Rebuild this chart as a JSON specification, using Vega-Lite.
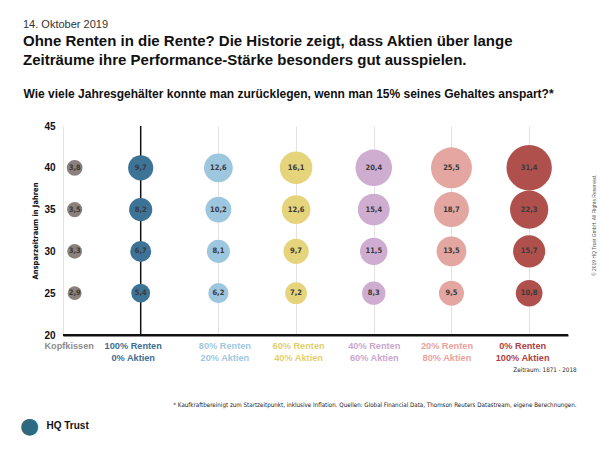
{
  "$schema": "https://vega.github.io/schema/vega-lite/v6.json",
  "width": 505,
  "height": 209,
  "autosize": {"type": "none"},
  "padding": {"left": 63, "top": 126, "right": 32, "bottom": 115},
  "background": "white",
  "config": {
    "font": "Liberation Sans",
    "view": {"stroke": null},
    "locale": {"number": {"decimal": ",", "thousands": ".", "grouping": [3], "currency": ["", " €"]}}
  },
  "title": {
    "text": "14. Oktober 2019",
    "subtitle": ["Ohne Renten in die Rente? Die Historie zeigt, dass Aktien über lange", "Zeiträume ihre Performance-Stärke besonders gut ausspielen."],
    "anchor": "start",
    "frame": "group",
    "dx": -40,
    "fontSize": 11,
    "fontWeight": "normal",
    "color": "#333333",
    "subtitleFontSize": 15,
    "subtitleFontWeight": "bold",
    "subtitleColor": "#111111",
    "subtitleLineHeight": 19.5,
    "subtitlePadding": 4,
    "offset": 19
  },
  "data": {"values": [
    {"strategie": "Kopfkissen", "aktien": -17, "jahre": 40, "wert": 3.8},
    {"strategie": "Kopfkissen", "aktien": -17, "jahre": 35, "wert": 3.5},
    {"strategie": "Kopfkissen", "aktien": -17, "jahre": 30, "wert": 3.3},
    {"strategie": "Kopfkissen", "aktien": -17, "jahre": 25, "wert": 2.9},
    {"strategie": "100% Renten", "aktien": 0, "jahre": 40, "wert": 9.7},
    {"strategie": "100% Renten", "aktien": 0, "jahre": 35, "wert": 8.2},
    {"strategie": "100% Renten", "aktien": 0, "jahre": 30, "wert": 6.7},
    {"strategie": "100% Renten", "aktien": 0, "jahre": 25, "wert": 5.4},
    {"strategie": "80% Renten", "aktien": 20, "jahre": 40, "wert": 12.6},
    {"strategie": "80% Renten", "aktien": 20, "jahre": 35, "wert": 10.2},
    {"strategie": "80% Renten", "aktien": 20, "jahre": 30, "wert": 8.1},
    {"strategie": "80% Renten", "aktien": 20, "jahre": 25, "wert": 6.2},
    {"strategie": "60% Renten", "aktien": 40, "jahre": 40, "wert": 16.1},
    {"strategie": "60% Renten", "aktien": 40, "jahre": 35, "wert": 12.6},
    {"strategie": "60% Renten", "aktien": 40, "jahre": 30, "wert": 9.7},
    {"strategie": "60% Renten", "aktien": 40, "jahre": 25, "wert": 7.2},
    {"strategie": "40% Renten", "aktien": 60, "jahre": 40, "wert": 20.4},
    {"strategie": "40% Renten", "aktien": 60, "jahre": 35, "wert": 15.4},
    {"strategie": "40% Renten", "aktien": 60, "jahre": 30, "wert": 11.5},
    {"strategie": "40% Renten", "aktien": 60, "jahre": 25, "wert": 8.3},
    {"strategie": "20% Renten", "aktien": 80, "jahre": 40, "wert": 25.5},
    {"strategie": "20% Renten", "aktien": 80, "jahre": 35, "wert": 18.7},
    {"strategie": "20% Renten", "aktien": 80, "jahre": 30, "wert": 13.5},
    {"strategie": "20% Renten", "aktien": 80, "jahre": 25, "wert": 9.5},
    {"strategie": "0% Renten", "aktien": 100, "jahre": 40, "wert": 31.4},
    {"strategie": "0% Renten", "aktien": 100, "jahre": 35, "wert": 22.3},
    {"strategie": "0% Renten", "aktien": 100, "jahre": 30, "wert": 15.7},
    {"strategie": "0% Renten", "aktien": 100, "jahre": 25, "wert": 10.8}
  ]},
  "layer": [
    {
      "data": {"values": [{"linie": "100% Renten"}]},
      "mark": {"type": "rule", "color": "#111111", "strokeWidth": 1.5},
      "encoding": {
        "x": {
          "datum": 0,
          "type": "quantitative",
          "scale": {"domain": [-20, 110], "nice": false, "zero": false},
          "axis": {
            "orient": "bottom",
            "labels": false,
            "ticks": false,
            "domain": false,
            "grid": false,
            "title": "HQ Trust",
            "titleX": -17,
            "titleY": 90,
            "titleAlign": "left",
            "titleAnchor": "start",
            "titleBaseline": "middle",
            "titleFontSize": 10,
            "titleFontWeight": "bold",
            "titleColor": "#111111"
          }
        }
      }
    },
    {
      "data": {"values": [{"linie": "Basis"}]},
      "mark": {"type": "rule", "color": "#111111", "strokeWidth": 2},
      "encoding": {
        "y": {
          "datum": 20,
          "type": "quantitative",
          "scale": {"domain": [20, 45], "nice": false, "zero": false},
          "axis": {
            "orient": "left",
            "labels": false,
            "ticks": false,
            "domain": false,
            "grid": false,
            "title": "●",
            "titleAngle": 0,
            "titleX": -34,
            "titleY": 299,
            "titleAlign": "center",
            "titleBaseline": "middle",
            "titleFontSize": 22,
            "titleFontWeight": "normal",
            "titleColor": "#2b6a7f",
            "titleFont": "DejaVu Sans"
          }
        }
      }
    },
    {
      "mark": {"type": "circle", "opacity": 1},
      "encoding": {
        "x": {
          "field": "aktien",
          "type": "quantitative",
          "scale": {"domain": [-20, 110], "nice": false, "zero": false},
          "axis": {
            "orient": "bottom",
            "values": [-17, 0, 20, 40, 60, 80, 100],
            "labelExpr": "datum.value < 0 ? 'Kopfkissen' : [(100 - datum.value) + '% Renten', datum.value + '% Aktien']",
            "labelFontSize": 9.2,
            "labelFontWeight": "bold",
            "labelLineHeight": 12,
            "labelPadding": 6,
            "labelOverlap": false,
            "labelFlush": false,
            "labelBound": false,
            "labelOffset": {
              "condition": [
                {"test": "datum.value < 0", "value": -6},
                {"test": "datum.value == 0", "value": -8},
                {"test": "datum.value == 20", "value": 6},
                {"test": "datum.value == 40", "value": 2},
                {"test": "datum.value == 60", "value": 0},
                {"test": "datum.value == 80", "value": -5}
              ],
              "value": -7
            },
            "labelColor": {
              "condition": [
                {"test": "datum.value < 0", "value": "#8c8c8c"},
                {"test": "datum.value == 0", "value": "#3b6e95"},
                {"test": "datum.value == 20", "value": "#9fc8e0"},
                {"test": "datum.value == 40", "value": "#e2cf6c"},
                {"test": "datum.value == 60", "value": "#cba7cd"},
                {"test": "datum.value == 80", "value": "#e9a29d"}
              ],
              "value": "#b0433f"
            },
            "ticks": false,
            "domainColor": "#111111",
            "domainWidth": 2,
            "grid": true,
            "gridColor": {"condition": {"test": "datum.value <= 0", "value": "transparent"}, "value": "#e3e3e3"},
            "title": ["Zeitraum: 1871 - 2018", "* Kaufkraftbereinigt zum Startzeitpunkt, inklusive Inflation. Quellen: Global Financial Data, Thomson Reuters Datastream, eigene Berechnungen."],
            "titleX": 513,
            "titleY": 31,
            "titleAlign": "right",
            "titleAnchor": "end",
            "titleBaseline": "top",
            "titleLineHeight": 35,
            "titleFontSize": 6.2,
            "titleFontWeight": "normal",
            "titleColor": "#222222",
            "titleFont": "DejaVu Sans Condensed, Liberation Sans"
          }
        },
        "y": {
          "field": "jahre",
          "type": "quantitative",
          "scale": {"domain": [20, 45], "nice": false, "zero": false},
          "axis": {
            "orient": "left",
            "values": [20, 25, 30, 35, 40, 45],
            "labelFontSize": 10,
            "labelFontWeight": "bold",
            "labelColor": "#111111",
            "labelPadding": 8,
            "ticks": false,
            "domainColor": "#e3e3e3",
            "gridColor": "#e3e3e3",
            "title": "Ansparzeitraum in Jahren",
            "titleFontSize": 7.5,
            "titleFontWeight": "bold",
            "titleColor": "#111111",
            "titlePadding": 4,
            "titleFont": "DejaVu Sans Condensed, Liberation Sans"
          }
        },
        "size": {"field": "wert", "type": "quantitative", "scale": {"domain": [0, 32], "range": [0, 2100]}, "legend": null},
        "color": {
          "field": "strategie",
          "type": "nominal",
          "scale": {
            "domain": ["Kopfkissen", "100% Renten", "80% Renten", "60% Renten", "40% Renten", "20% Renten", "0% Renten"],
            "range": ["#8b807c", "#3e7398", "#9dc6df", "#e5d47b", "#cfadd1", "#e3a6a1", "#b0504c"]
          },
          "legend": null
        }
      }
    },
    {
      "mark": {"type": "text", "fontSize": 7.5, "fontWeight": "bold", "color": "#3a3a3a", "font": "DejaVu Sans Condensed, Liberation Sans"},
      "encoding": {
        "x": {
          "field": "aktien",
          "type": "quantitative",
          "scale": {"domain": [-20, 110], "nice": false, "zero": false},
          "axis": {
            "orient": "top",
            "labels": false,
            "ticks": false,
            "domain": false,
            "grid": false,
            "title": "Wie viele Jahresgehälter konnte man zurücklegen, wenn man 15% seines Gehaltes anspart?*",
            "titleFontSize": 12,
            "titleFontWeight": "bold",
            "titleColor": "#111111",
            "titleX": -40,
            "titleY": -29,
            "titleAlign": "left",
            "titleAnchor": "start",
            "titleBaseline": "alphabetic"
          }
        },
        "y": {
          "field": "jahre",
          "type": "quantitative",
          "scale": {"domain": [20, 45], "nice": false, "zero": false},
          "axis": {
            "orient": "right",
            "labels": false,
            "ticks": false,
            "domain": false,
            "grid": false,
            "title": "© 2019 HQ Trust GmbH. All Rights Reserved.",
            "titleFontSize": 5,
            "titleFontWeight": "normal",
            "titleColor": "#555555",
            "titleAngle": 270,
            "titleX": 25,
            "titleY": 99,
            "titleAlign": "center",
            "titleBaseline": "middle"
          }
        },
        "text": {"field": "wert", "type": "quantitative", "format": ".1f"}
      }
    }
  ],
  "resolve": {"axis": {"x": "independent", "y": "independent"}}
}
